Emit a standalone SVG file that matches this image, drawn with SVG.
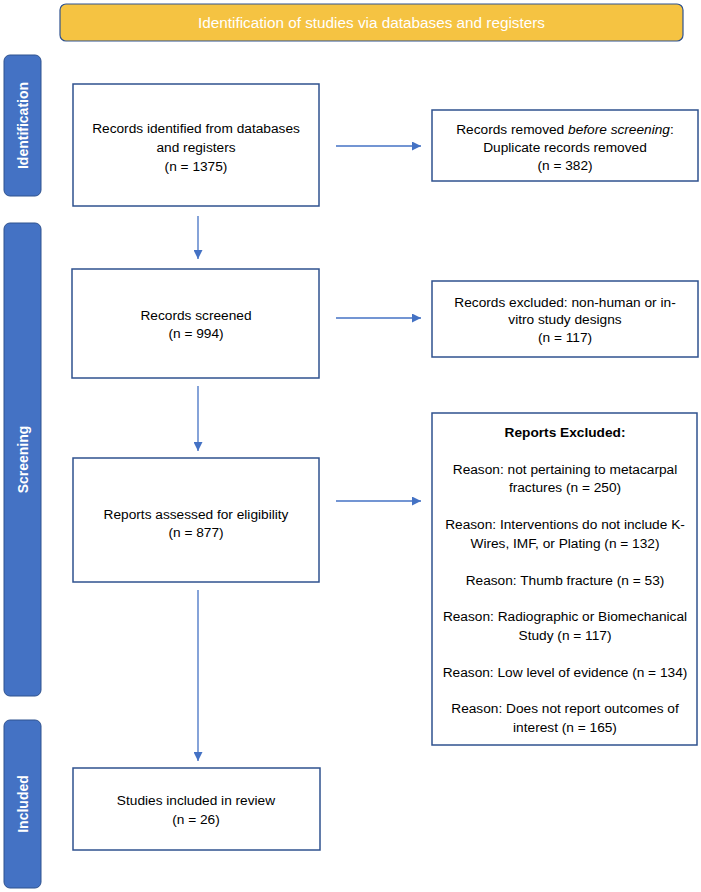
<svg xmlns="http://www.w3.org/2000/svg" width="701" height="892" viewBox="0 0 701 892">
<style>
.box{fill:#ffffff;stroke:#2F528F;stroke-width:1.5}
.bar{fill:#4472C4;stroke:#2F528F;stroke-width:1}
.t{font-family:"Liberation Sans",Arial,sans-serif;font-size:13.7px;fill:#000000;text-anchor:middle}
.bt{font-family:"Liberation Sans",Arial,sans-serif;font-size:14px;font-weight:bold;fill:#ffffff;text-anchor:middle}
.conn{stroke:#4472C4;stroke-width:1.3;fill:none;marker-end:url(#ah)}
</style>
<defs>
<marker id="ah" viewBox="0 0 10 10" refX="10" refY="5" markerWidth="9" markerHeight="9" markerUnits="userSpaceOnUse" orient="auto">
<path d="M0,0 L10,5 L0,10 z" fill="#4472C4"/>
</marker>
</defs>
<rect width="701" height="892" fill="#ffffff"/>
<g id="banner">
<rect x="60" y="4" width="623" height="37" rx="6" fill="#F5C342" stroke="#2F528F" stroke-width="1.2"/>
<text x="371.5" y="27.5" style="font-family:'Liberation Sans',Arial,sans-serif;font-size:15.3px;fill:#ffffff;text-anchor:middle">Identification of studies via databases and registers</text>
</g>
<g id="bar-identification">
<rect class="bar" x="4" y="55" width="37" height="141" rx="6"/>
<text class="bt" transform="translate(27.5,125.5) rotate(-90)">Identification</text>
</g>
<g id="bar-screening">
<rect class="bar" x="4" y="223" width="37" height="473" rx="6"/>
<text class="bt" transform="translate(27.5,459.5) rotate(-90)">Screening</text>
</g>
<g id="bar-included">
<rect class="bar" x="4" y="720" width="37" height="168" rx="6"/>
<text class="bt" transform="translate(27.5,804) rotate(-90)">Included</text>
</g>
<g id="records-identified">
<rect class="box" x="73" y="84" width="246" height="122"/>
<text class="t" x="196" y="132.5">Records identified from databases</text>
<text class="t" x="196" y="151.5">and registers</text>
<text class="t" x="196" y="170.5">(n = 1375)</text>
</g>
<g id="records-removed">
<rect class="box" x="432" y="110" width="266" height="71"/>
<text class="t" x="565" y="133.5">Records removed <tspan font-style="italic">before screening</tspan>:</text>
<text class="t" x="565" y="151.5">Duplicate records removed</text>
<text class="t" x="565" y="169.5">(n = 382)</text>
</g>
<g id="records-screened">
<rect class="box" x="72" y="269" width="247" height="109"/>
<text class="t" x="196" y="319.5">Records screened</text>
<text class="t" x="196" y="337.5">(n = 994)</text>
</g>
<g id="records-excluded">
<rect class="box" x="432" y="281" width="266" height="76"/>
<text class="t" x="565" y="306.5">Records excluded: non-human or in-</text>
<text class="t" x="565" y="324">vitro study designs</text>
<text class="t" x="565" y="341.5">(n = 117)</text>
</g>
<g id="reports-assessed">
<rect class="box" x="73" y="458" width="246" height="124"/>
<text class="t" x="196" y="518.5">Reports assessed for eligibility</text>
<text class="t" x="196" y="537">(n = 877)</text>
</g>
<g id="reports-excluded">
<rect class="box" x="432" y="413" width="265" height="332"/>
<text class="t" x="565" y="437" font-weight="bold">Reports Excluded:</text>
<text class="t" x="565" y="473.5">Reason: not pertaining to metacarpal</text>
<text class="t" x="565" y="492">fractures (n = 250)</text>
<text class="t" x="565" y="529">Reason: Interventions do not include K-</text>
<text class="t" x="565" y="547.5">Wires, IMF, or Plating (n = 132)</text>
<text class="t" x="565" y="584.5">Reason: Thumb fracture (n = 53)</text>
<text class="t" x="565" y="621">Reason: Radiographic or Biomechanical</text>
<text class="t" x="565" y="639.5">Study (n = 117)</text>
<text class="t" x="565" y="676.5">Reason: Low level of evidence (n = 134)</text>
<text class="t" x="565" y="713">Reason: Does not report outcomes of</text>
<text class="t" x="565" y="731.5">interest (n = 165)</text>
</g>
<g id="studies-included">
<rect class="box" x="73" y="768" width="247" height="82"/>
<text class="t" x="196" y="805">Studies included in review</text>
<text class="t" x="196" y="824">(n = 26)</text>
</g>
<g id="connectors">
<line class="conn" x1="336" y1="146" x2="421" y2="146"/>
<line class="conn" x1="336" y1="318" x2="421" y2="318"/>
<line class="conn" x1="336" y1="501" x2="421" y2="501"/>
<line class="conn" x1="198" y1="216" x2="198" y2="259"/>
<line class="conn" x1="198" y1="386" x2="198" y2="451"/>
<line class="conn" x1="198" y1="590" x2="198" y2="761"/>
</g>
</svg>
